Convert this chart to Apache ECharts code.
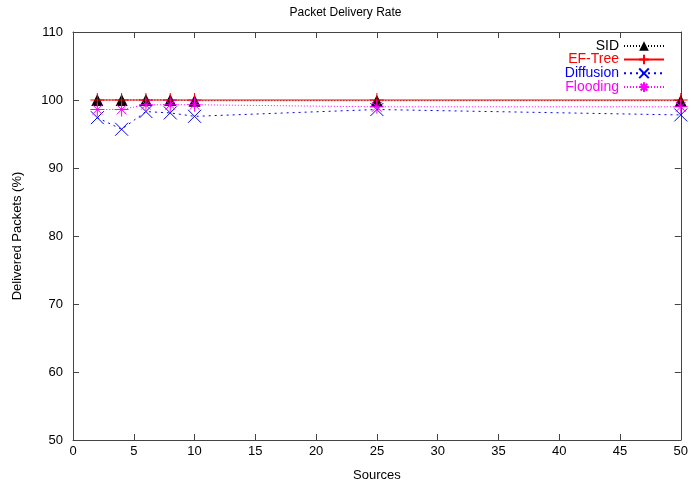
<!DOCTYPE html>
<html>
<head>
<meta charset="utf-8">
<script src="https://cdn.jsdelivr.net/npm/echarts@6/dist/echarts.min.js"></script>
<style>html,body{margin:0;padding:0;background:#fff}#chart{width:691px;height:487px}</style>
</head>
<body>
<div id="chart"></div>
<script>
// data
const sources = [2, 4, 6, 8, 10, 25, 50];
const sid = [100, 100, 100, 100, 99.9, 99.9, 99.9];
const efTree = [100, 100, 100, 100, 100, 100, 100];
const diffusion = [97.4, 95.7, 98.3, 98.1, 97.6, 98.6, 97.8];
const flooding = [98.6, 98.6, 99.3, 99.3, 99.3, 99.0, 99.0];

const font = 'Liberation Sans, Arial, sans-serif';
const axisColor = '#444';
const pairs = arr => sources.map((s, i) => [s, arr[i]]);

const plusPath = 'path://M5 0L5 10M0 5L10 5';
const crossPath = 'path://M0 0L10 10M10 0L0 10';
const starPath = 'path://M5 0L5 10M0 5L10 5M1.5 1.5L8.5 8.5M8.5 1.5L1.5 8.5';

function mk(name, data, color, type, symbol, size, filled) {
    return {
        name: name, type: 'line', data: pairs(data),
        symbol: symbol, symbolSize: size,
        lineStyle: { color: color, width: 1, type: type },
        itemStyle: filled ? { color: color } : { color: 'none', borderColor: color, borderWidth: 1 },
        emphasis: { disabled: true },
        animation: false
    };
}

const tick = { show: true, inside: true, length: 6, lineStyle: { color: axisColor } };
const line = { show: true, onZero: false, lineStyle: { color: axisColor } };

const chart = echarts.init(document.getElementById('chart'));
chart.setOption({
    title: {
        text: 'Packet Delivery Rate', left: 'center', top: 2,
        textStyle: { fontFamily: font, fontSize: 12, fontWeight: 'normal', color: '#000' }
    },
    legend: {
        right: 21, top: 34, orient: 'vertical', align: 'right',
        itemWidth: 40, itemHeight: 12, itemGap: -0.8,
        textStyle: { fontFamily: font, fontSize: 14 },
        data: [
            { name: 'SID', textStyle: { color: '#000' } },
            { name: 'EF-Tree', textStyle: { color: '#ff0000' } },
            { name: 'Diffusion', textStyle: { color: '#0000ff' } },
            { name: 'Flooding', textStyle: { color: '#ff00ff' } }
        ]
    },
    grid: { left: 73, right: 5, top: 32, bottom: 45 },
    xAxis: [{
        type: 'value', min: 0, max: 50, interval: 5,
        name: 'Sources', nameLocation: 'middle', nameGap: 29,
        nameTextStyle: { fontFamily: font, fontSize: 13, color: '#000' },
        axisLine: line, axisTick: tick,
        axisLabel: { fontFamily: font, fontSize: 13, color: '#000', margin: 5 },
        splitLine: { show: false }
    }, {
        type: 'value', min: 0, max: 50, interval: 5, position: 'top',
        axisLine: line, axisTick: tick,
        axisLabel: { show: false }, splitLine: { show: false }
    }],
    yAxis: [{
        type: 'value', min: 50, max: 110, interval: 10,
        name: 'Delivered Packets (%)', nameLocation: 'middle', nameGap: 49,
        nameTextStyle: { fontFamily: font, fontSize: 13, color: '#000' },
        axisLine: line, axisTick: tick,
        axisLabel: { fontFamily: font, fontSize: 13, color: '#000', margin: 10 },
        splitLine: { show: false }
    }, {
        type: 'value', min: 50, max: 110, interval: 10, position: 'right',
        axisLine: line, axisTick: tick,
        axisLabel: { show: false }, splitLine: { show: false }
    }],
    series: [
        mk('SID', sid, '#000000', [1, 2], 'triangle', 12, true),
        mk('EF-Tree', efTree, '#ff0000', 'solid', plusPath, 14, false),
        mk('Diffusion', diffusion, '#0000ff', [2, 4], crossPath, 13, false),
        mk('Flooding', flooding, '#ff00ff', [1, 2], starPath, 14, false)
    ]
});
</script>
</body>
</html>
